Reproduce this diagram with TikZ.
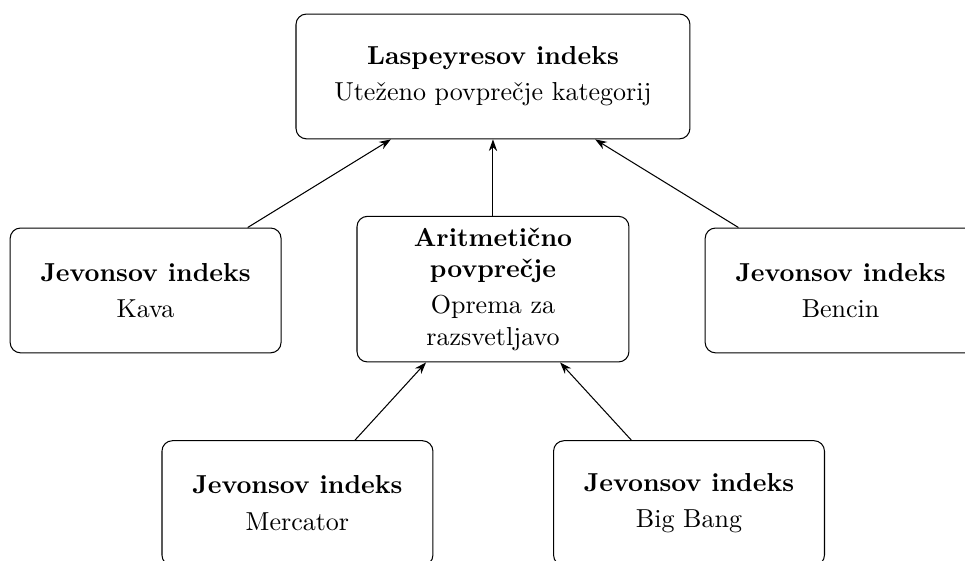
\documentclass[tikz,border=0pt]{standalone}
\usetikzlibrary{arrows.meta}
\begin{document}
\begin{tikzpicture}[x=1pt,y=1pt,
  box/.style={draw, rounded corners=4pt, align=center, line width=0.4pt,
    minimum width=104.2pt, minimum height=48pt, inner sep=3.33pt},
  topbox/.style={box, minimum width=151.5pt},
  midbox/.style={box, text width=97.5pt, minimum width=104.6pt, minimum height=56pt},
  arr/.style={-{Stealth[length=4.5pt,width=3.2pt]}, line width=0.4pt}]
\clip (0,0) rectangle (371.15,-215.4);
\useasboundingbox (0,0) rectangle (371.15,-215.4);
\node[topbox] (lasp) at (189.6,-29.4) {\textbf{Laspeyresov indeks}\\[2pt]Uteženo povprečje kategorij};
\node[box] (kava) at (56,-111.7) {\textbf{Jevonsov indeks}\\[2pt]Kava};
\node[midbox] (arit) at (189.6,-111.2) {\textbf{Aritmetično povprečje}\\[2pt]Oprema za razsvetljavo};
\node[box] (bencin) at (323.3,-111.7) {\textbf{Jevonsov indeks}\\[2pt]Bencin};
\node[box] (merc) at (114.4,-193.5) {\textbf{Jevonsov indeks}\\[2pt]Mercator};
\node[box] (bigb) at (265,-193.5) {\textbf{Jevonsov indeks}\\[2pt]Big Bang};
\draw[arr] (kava) -- (lasp);
\draw[arr] (arit) -- (lasp);
\draw[arr] (bencin) -- (lasp);
\draw[arr] (merc) -- (arit);
\draw[arr] (bigb) -- (arit);
\end{tikzpicture}
\end{document}
